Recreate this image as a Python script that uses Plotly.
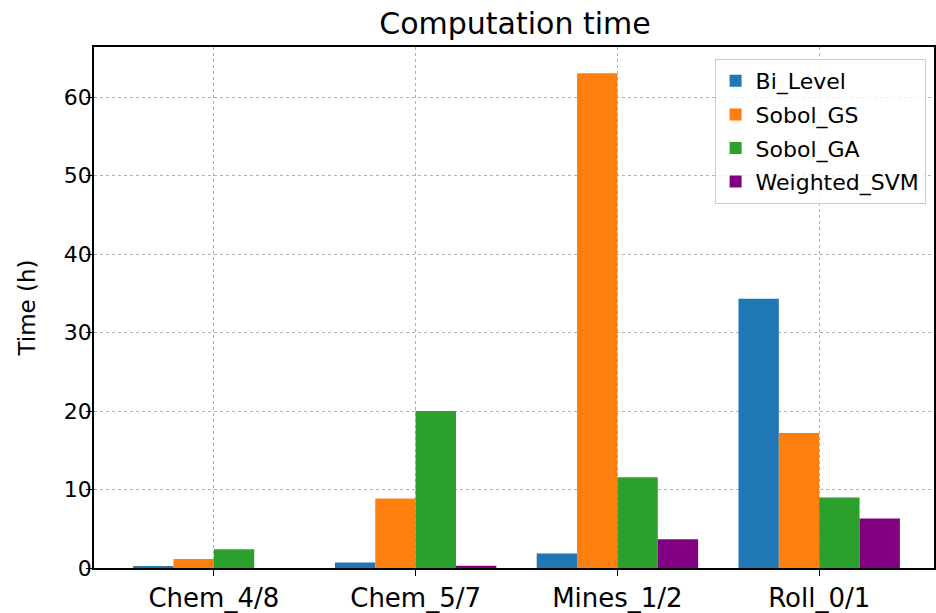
import plotly.graph_objects as go

datasets = ["Chem_4/8", "Chem_5/7", "Mines_1/2", "Roll_0/1"]
bi_level = [0.25, 0.7, 1.85, 34.3]
sobol_gs = [1.15, 8.85, 63.05, 17.2]
sobol_ga = [2.4, 20.0, 11.55, 9.0]
weighted_svm = [0.0, 0.3, 3.65, 6.3]

series = [
    ("Bi_Level", bi_level, "#1f77b4"),
    ("Sobol_GS", sobol_gs, "#ff7f0e"),
    ("Sobol_GA", sobol_ga, "#2ca02c"),
    ("Weighted_SVM", weighted_svm, "#800080"),
]

fig = go.Figure()
for name, vals, col in series:
    fig.add_trace(go.Bar(x=list(range(len(datasets))), y=vals, name=name,
                         legendgroup=name,
                         marker=dict(color=col, line=dict(width=0))))

font = "DejaVu Sans"
fig.update_layout(
    width=936, height=613,
    barmode="group", bargap=0.2, bargroupgap=0,
    plot_bgcolor="white", paper_bgcolor="white",
    margin=dict(l=94, r=0, t=47, b=45),
    font=dict(family=font, size=22, color="black"),
    title=dict(text="Computation time", x=(94 + 936) / 2 / 936, xanchor="center",
               y=1 - 23 / 613, yanchor="middle", font=dict(size=30)),
    legend=dict(x=0.99, xanchor="right", y=0.977, yanchor="top",
                bordercolor="#cccccc", borderwidth=1, bgcolor="rgba(255,255,255,0.8)",
                font=dict(size=22), tracegroupgap=2),
    showlegend=True,
)
fig.update_xaxes(
    tickmode="array", tickvals=list(range(len(datasets))), ticktext=datasets,
    range=[-0.594, 3.569], tickfont=dict(size=26),
    showline=True, linecolor="black", linewidth=1.5, mirror=True,
    ticks="outside", ticklen=6, tickcolor="black",
    showgrid=True, gridcolor="#b0b0b0", griddash="dot", gridwidth=1,
    zeroline=False,
)
fig.update_yaxes(
    title=dict(text="Time (h)", font=dict(size=23), standoff=22),
    range=[0, 66.4], tickvals=[0, 10, 20, 30, 40, 50, 60], tickfont=dict(size=22),
    ticklabelstandoff=-10,
    showline=True, linecolor="black", linewidth=1.5, mirror=True,
    ticks="outside", ticklen=6, tickcolor="black",
    showgrid=True, gridcolor="#b0b0b0", griddash="dot", gridwidth=1,
    zeroline=False,
)

fig.write_html("out.html", config={"displayModeBar": False},
               post_script="document.body.style.margin='0';document.body.style.overflow='hidden';")
